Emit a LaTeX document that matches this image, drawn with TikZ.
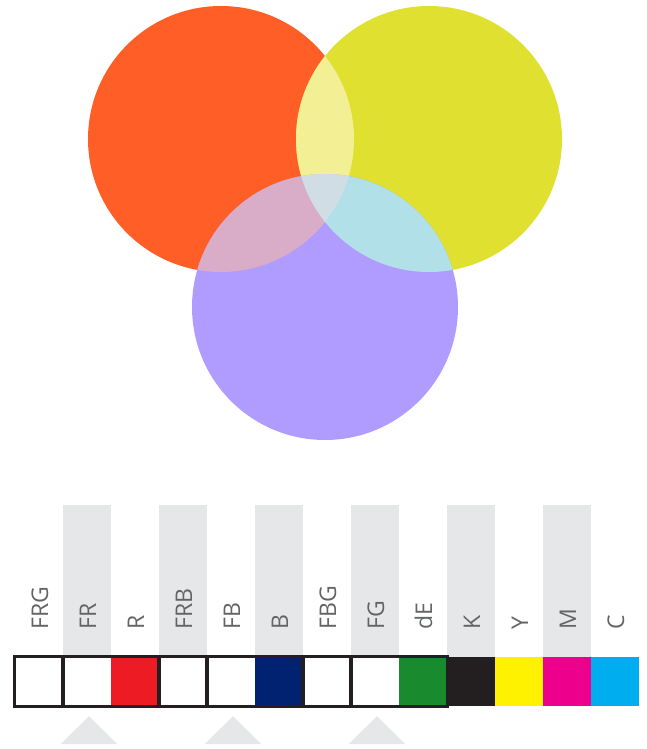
\documentclass[tikz,border=0pt]{standalone}
\usepackage{fontspec}
\setmainfont{Open Sans}
\usepackage{xcolor}
\usepackage{tikz}
\usetikzlibrary{positioning}

\definecolor{circred}{HTML}{FF5E26}
\definecolor{circyellow}{HTML}{E0E030}
\definecolor{circpurple}{HTML}{B09CFF}
\definecolor{ovry}{HTML}{F3EF95}
\definecolor{ovrp}{HTML}{D9ACC8}
\definecolor{ovyp}{HTML}{B2E0E8}
\definecolor{ovall}{HTML}{D0DDE4}
\definecolor{barred}{HTML}{ED1C24}
\definecolor{barblue}{HTML}{002270}
\definecolor{bargreen}{HTML}{1A8A2E}
\definecolor{barblack}{HTML}{231F20}
\definecolor{baryellow}{HTML}{FFF200}
\definecolor{barmagenta}{HTML}{EC008C}
\definecolor{barcyan}{HTML}{00AEEF}
\definecolor{colbg}{HTML}{E6E7E8}
\definecolor{labgray}{HTML}{636466}

\begin{document}
\begin{tikzpicture}[
        x=1pt, y=-1pt,
        cell/.style={rectangle, inner sep=0pt, minimum width=48pt, minimum height=49pt},
        lab/.style={rotate=90, anchor=base west, inner sep=0pt, text=labgray, font=\fontsize{23}{27}\selectfont},
        frame/.style={draw=barblack, line width=3pt},
    ]
        \useasboundingbox (0,0) rectangle (647,749);

        % circles
        \coordinate (cr) at (221,139);
        \coordinate (cy) at (429,139);
        \coordinate (cp) at (325,307);
        \fill[circred] (cr) circle (133);
        \fill[circyellow] (cy) circle (133);
        \fill[circpurple] (cp) circle (133);
        \begin{scope}
            \clip (cr) circle (133);
            \fill[ovry] (cy) circle (133);
            \fill[ovrp] (cp) circle (133);
        \end{scope}
        \begin{scope}
            \clip (cy) circle (133);
            \fill[ovyp] (cp) circle (133);
            \clip (cp) circle (133);
            \fill[ovall] (cr) circle (133);
        \end{scope}

        % bar
        \foreach \lab/\col [count=\i] in {FRG/white, FR/white, R/barred, FRB/white, FB/white, B/barblue,
                FBG/white, FG/white, dE/bargreen, K/barblack, Y/baryellow, M/barmagenta, C/barcyan} {
            \node[cell, fill=\col] (cell\i) at (48*\i-9, 681.5) {};
            \ifodd\i\else
                \fill[colbg] (cell\i.north west) rectangle ++(48,-152);
            \fi
            \node[lab] (lab\i) at ([xshift=9pt, yshift=27pt]cell\i.north) {\lab};
        }
        \foreach \a/\b in {1/1, 2/3, 4/4, 5/6, 7/7, 8/9}
            \draw[frame] (cell\a.north west) rectangle (cell\b.south east);

        % markers
        \foreach \i in {2,5,8}
            \fill[colbg] ([xshift=2pt, yshift=-10pt]cell\i.south) coordinate (tip\i)
                -- ++(28.5,28) -- ++(-57,0) -- cycle;
    \end{tikzpicture}
\end{document}
